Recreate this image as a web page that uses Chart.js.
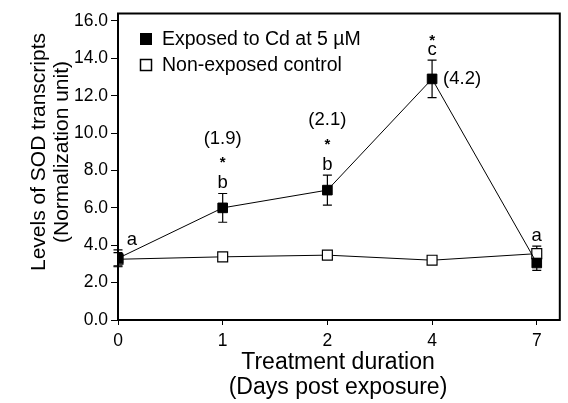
<!DOCTYPE html>
<html><head><meta charset="utf-8">
<script src="https://cdn.jsdelivr.net/npm/chart.js@4.4.1/dist/chart.umd.min.js"></script>
<style>html,body{margin:0;padding:0;background:#fff;}#wrap{width:568px;height:403px;}</style>
</head><body><div id="wrap"><canvas id="c" width="568" height="403"></canvas></div>
<script>
// ---- data ----
const days = ['0', '1', '2', '4', '7'];
const exposedMean = [3.3, 6.0, 6.95, 12.9, 3.05];
const exposedErr = [0.45, 0.77, 0.8, 1.0, 0.4];
const controlMean = [3.25, 3.38, 3.47, 3.2, 3.55];
const controlErr = [0.35, 0.12, 0.15, 0.1, 0.4];
const sigLetters = ['a', 'b', 'b', 'c', 'a'];
const stars = ['', '*', '*', '*', ''];
const foldChange = ['', '(1.9)', '(2.1)', '(4.2)', ''];
const yTicks = [0, 2, 4, 6, 8, 10, 12, 14, 16];
const seriesLabels = ['Exposed to Cd at 5 \u00b5M', 'Non-exposed control'];
const xTitle = ['Treatment duration', '(Days post exposure)'];
const yTitle = ['Levels of SOD transcripts', '(Normalization unit)'];

const FONT = "'Liberation Sans', Arial, Helvetica, sans-serif";
Chart.defaults.font.family = FONT;
Chart.defaults.color = '#000';

const errorBars = {
  id: 'errorBars',
  beforeDatasetsDraw(chart) {
    const {ctx, scales: {x, y}} = chart;
    const sets = [[exposedMean, exposedErr], [controlMean, controlErr]];
    ctx.save();
    ctx.strokeStyle = '#000';
    ctx.lineWidth = 1.2;
    sets.forEach(([m, e]) => {
      m.forEach((v, i) => {
        const px = x.getPixelForValue(i);
        const yt = y.getPixelForValue(v + e[i]);
        const yb = y.getPixelForValue(v - e[i]);
        ctx.beginPath();
        ctx.moveTo(px, yt); ctx.lineTo(px, yb);
        ctx.moveTo(px - 4.5, yt); ctx.lineTo(px + 4.5, yt);
        ctx.moveTo(px - 4.5, yb); ctx.lineTo(px + 4.5, yb);
        ctx.stroke();
      });
    });
    ctx.restore();
  }
};

const annotations = {
  id: 'annotations',
  afterDatasetsDraw(chart) {
    const {ctx, scales: {x, y}} = chart;
    ctx.save();
    ctx.fillStyle = '#000';
    days.forEach((d, i) => {
      const px = x.getPixelForValue(i);
      const top = Math.max(exposedMean[i] + exposedErr[i], controlMean[i] + controlErr[i]);
      const errTop = y.getPixelForValue(top);
      const base = errTop - 5;
      const lx = i === 0 ? px + 14 : px;
      ctx.font = '18.5px ' + FONT;
      ctx.textAlign = 'center';
      ctx.textBaseline = 'alphabetic';
      ctx.fillText(sigLetters[i], lx, base);
      const tall = /[bdhkl]/.test(sigLetters[i]);
      const letterTop = base - (tall ? 13 : 9.4);
      const starC = letterTop - (tall ? 17 : 9);
      if (stars[i]) {
        ctx.font = 'bold 15px ' + FONT;
        ctx.fillText(stars[i], px, starC + 8.5);
      }
      if (foldChange[i]) {
        ctx.font = '18.5px ' + FONT;
        ctx.textBaseline = 'middle';
        if (i === 3) {
          ctx.textAlign = 'left';
          ctx.fillText(foldChange[i], px + 11, y.getPixelForValue(exposedMean[i]));
        } else {
          ctx.textAlign = 'center';
          ctx.fillText(foldChange[i], px, starC - 20);
        }
      }
    });
    ctx.restore();
  }
};

const frameAndText = {
  id: 'frameAndText',
  afterDraw(chart) {
    const {ctx, chartArea: a} = chart;
    ctx.save();
    ctx.strokeStyle = '#000';
    ctx.lineWidth = 2;
    ctx.strokeRect(a.left, a.top, a.right - a.left, a.bottom - a.top);
    // legend
    ctx.fillStyle = '#000';
    ctx.fillRect(140, 33, 12, 12);
    ctx.lineWidth = 1.5;
    ctx.fillStyle = '#fff';
    ctx.fillRect(140.5, 59.5, 11, 11);
    ctx.strokeRect(140.5, 59.5, 11, 11);
    ctx.fillStyle = '#000';
    ctx.font = '19.5px ' + FONT;
    ctx.textAlign = 'left';
    ctx.textBaseline = 'middle';
    ctx.fillText(chart.data.datasets[0].label, 162, 40);
    ctx.fillText(chart.data.datasets[1].label, 162, 66);
    // x title
    ctx.font = '23px ' + FONT;
    ctx.textAlign = 'center';
    ctx.fillText(xTitle[0], 338, 363);
    ctx.fillText(xTitle[1], 338, 388);
    // y title
    ctx.font = '21px ' + FONT;
    ctx.textBaseline = 'alphabetic';
    [[yTitle[0], 45], [yTitle[1], 68]].forEach(([t, bx]) => {
      ctx.save();
      ctx.translate(bx, 152);
      ctx.rotate(-Math.PI / 2);
      ctx.fillText(t, 0, 0);
      ctx.restore();
    });
    ctx.restore();
  }
};

new Chart(document.getElementById('c'), {
  type: 'line',
  data: {
    datasets: [
      {
        label: seriesLabels[0],
        data: exposedMean.map((v, i) => ({x: i, y: v})),
        borderColor: '#000', borderWidth: 1, tension: 0,
        pointStyle: 'rect', pointRadius: 6.8,
        pointBackgroundColor: '#000', pointBorderColor: '#000', pointBorderWidth: 1
      },
      {
        label: seriesLabels[1],
        data: controlMean.map((v, i) => ({x: i, y: v})),
        borderColor: '#000', borderWidth: 1, tension: 0,
        pointStyle: 'rect', pointRadius: 7,
        pointBackgroundColor: '#fff', pointBorderColor: '#000', pointBorderWidth: 1.2
      }
    ]
  },
  options: {
    responsive: false,
    animation: false,
    devicePixelRatio: 1,
    layout: {padding: {top: 10, right: 2, left: 0, bottom: 0}},
    plugins: {legend: {display: false}, tooltip: {enabled: false}},
    scales: {
      x: {
        type: 'linear', min: 0, max: 4.22,
        afterFit: s => { s.height = 83; },
        afterBuildTicks: s => { s.ticks = days.map((d, i) => ({value: i})); },
        ticks: {callback: v => days[v], font: {size: 17.5}, color: '#000', padding: 6, maxRotation: 0, autoSkip: false},
        grid: {drawOnChartArea: false, drawTicks: true, tickLength: 5, color: '#000', lineWidth: 1},
        border: {color: '#000', width: 2}
      },
      y: {
        min: 0, max: 16.4,
        afterFit: s => { s.width = 118; },
        afterBuildTicks: s => { s.ticks = yTicks.map(v => ({value: v})); },
        ticks: {callback: v => Number(v).toFixed(1), font: {size: 17.5}, color: '#000', padding: 3},
        grid: {drawOnChartArea: false, drawTicks: true, tickLength: 7, color: '#000', lineWidth: 1},
        border: {color: '#000', width: 2}
      }
    }
  },
  plugins: [errorBars, annotations, frameAndText]
});
</script></body></html>
